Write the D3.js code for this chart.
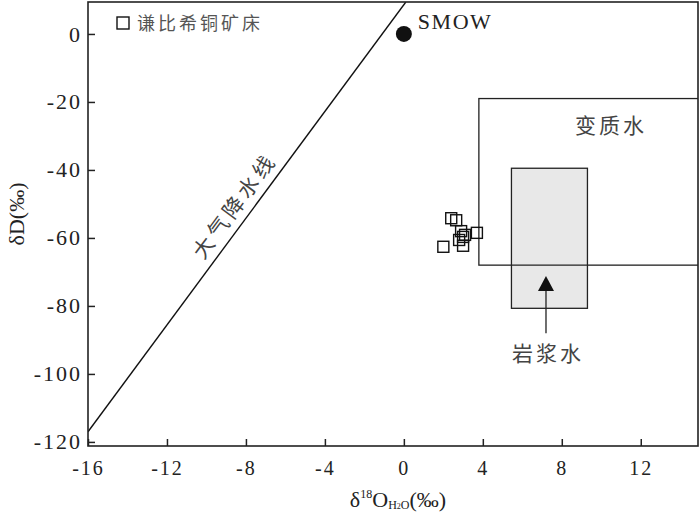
<!DOCTYPE html>
<html>
<head>
<meta charset="utf-8">
<script src="https://cdn.jsdelivr.net/npm/d3@7"></script>
<style>
  body { margin: 0; background: #fff; }
  svg { display: block; }
</style>
</head>
<body>
<div id="chart"></div>
<script>
// samples (d18O, dD)
const sampleX = [2.4, 2.65, 2.9, 3.7, 3.0, 3.1, 2.0, 3.0, 2.8];
const sampleY = [-54.2, -54.8, -58.0, -58.5, -59.7, -59.1, -62.6, -62.3, -60.6];

const xTicks = [-16, -12, -8, -4, 0, 4, 8, 12];
const yTicks = [0, -20, -40, -60, -80, -100, -120];

// meteoric water line end points
const mwlX = [-16, 0.1];
const mwlY = [-117, 9.4];

// fields
const metaBox = { x: [3.8, 15], y: [-68, -19] };
const magmaBox = { x: [5.45, 9.3], y: [-39.5, -80.7] };
const arrowX = 7.2;
const arrowY = [-88, -71.2];

const legendLabel = "谦比希铜矿床";

document.addEventListener("DOMContentLoaded", () => {
  const W = 700, H = 512;
  const L = 88, R = 698, T = 2, B = 446;
  const serif = "'Liberation Serif', 'DejaVu Serif', serif";
  const cjk = "'Noto Sans CJK SC', sans-serif";

  const svg = d3.select("#chart").append("svg")
    .attr("width", W).attr("height", H);

  const x = d3.scaleLinear().domain([-16, 14.9]).range([L, R]);
  const y = d3.scaleLinear().domain([-121.2, 9.4]).range([B, T]);

  svg.append("clipPath").attr("id", "clip")
    .append("rect").attr("x", L).attr("y", T).attr("width", R - L).attr("height", B - T);

  const plot = svg.append("g").attr("clip-path", "url(#clip)");

  // metamorphic water box
  plot.append("rect")
    .attr("x", x(metaBox.x[0]))
    .attr("y", y(metaBox.y[1]))
    .attr("width", x(metaBox.x[1]) - x(metaBox.x[0]))
    .attr("height", y(metaBox.y[0]) - y(metaBox.y[1]))
    .attr("fill", "none").attr("stroke", "#222").attr("stroke-width", 1.3);

  // magmatic water box
  plot.append("rect")
    .attr("x", x(magmaBox.x[0]))
    .attr("y", y(magmaBox.y[0]))
    .attr("width", x(magmaBox.x[1]) - x(magmaBox.x[0]))
    .attr("height", y(magmaBox.y[1]) - y(magmaBox.y[0]))
    .attr("fill", "#e8e8e8").attr("stroke", "#222").attr("stroke-width", 1.3);

  // redraw metamorphic bottom edge over the grey box
  plot.append("line")
    .attr("x1", x(magmaBox.x[0])).attr("x2", x(magmaBox.x[1]))
    .attr("y1", y(metaBox.y[0])).attr("y2", y(metaBox.y[0]))
    .attr("stroke", "#222").attr("stroke-width", 1.3);

  // arrow
  plot.append("line")
    .attr("x1", x(arrowX)).attr("x2", x(arrowX))
    .attr("y1", y(arrowY[0])).attr("y2", y(arrowY[1]) + 8)
    .attr("stroke", "#222").attr("stroke-width", 1.3);
  const ax = x(arrowX), ay = y(arrowY[1]);
  plot.append("path")
    .attr("d", `M${ax},${ay} L${ax - 8},${ay + 15} L${ax + 8},${ay + 15} Z`)
    .attr("fill", "#111");

  // meteoric water line
  const mwl = d3.zip(mwlX, mwlY);
  plot.append("path")
    .attr("d", d3.line().x(d => x(d[0])).y(d => y(d[1]))(mwl))
    .attr("fill", "none").attr("stroke", "#111").attr("stroke-width", 1.4);

  // SMOW
  plot.append("circle")
    .attr("cx", x(0)).attr("cy", y(0)).attr("r", 8)
    .attr("fill", "#111");

  // samples
  const sq = 11;
  plot.append("g").selectAll("rect")
    .data(d3.zip(sampleX, sampleY))
    .join("rect")
    .attr("x", d => x(d[0]) - sq / 2)
    .attr("y", d => y(d[1]) - sq / 2)
    .attr("width", sq).attr("height", sq)
    .attr("fill", "none").attr("stroke", "#111").attr("stroke-width", 1.4);

  // axes, plain hyphen for negatives like the original
  const fmt = d => String(d);
  const xAxis = d3.axisBottom(x).tickValues(xTicks).tickFormat(fmt)
    .tickSizeInner(-7).tickSizeOuter(0).tickPadding(15);
  const gx = svg.append("g").attr("transform", `translate(0,${B})`).call(xAxis);
  const yAxis = d3.axisLeft(y).tickValues(yTicks).tickFormat(fmt)
    .tickSizeInner(-7).tickSizeOuter(0).tickPadding(6);
  const gy = svg.append("g").attr("transform", `translate(${L},0)`).call(yAxis);

  [gx, gy].forEach(g => {
    g.select(".domain").remove();
    g.selectAll("line").attr("stroke", "#222").attr("stroke-width", 1.5);
    g.selectAll("text")
      .attr("font-family", serif)
      .attr("fill", "#222");
  });
  gx.selectAll("text").attr("font-size", 20).attr("letter-spacing", 2);
  gy.selectAll("text").attr("font-size", 22).attr("letter-spacing", 2);

  // frame
  svg.append("rect")
    .attr("x", L).attr("y", T).attr("width", R - L).attr("height", B - T)
    .attr("fill", "none").attr("stroke", "#222").attr("stroke-width", 1.6);

  // labels
  svg.append("text")
    .attr("x", x(0) + 14).attr("y", y(0) - 5)
    .attr("font-family", serif).attr("font-size", 22).attr("letter-spacing", 1.5)
    .attr("fill", "#222")
    .text("SMOW");

  svg.append("text")
    .attr("x", 611).attr("y", 133)
    .attr("text-anchor", "middle")
    .attr("font-family", cjk).attr("font-size", 21).attr("letter-spacing", 3)
    .attr("fill", "#444")
    .text("变质水");

  svg.append("text")
    .attr("x", x(arrowX) + 2).attr("y", 361)
    .attr("text-anchor", "middle")
    .attr("font-family", cjk).attr("font-size", 21).attr("letter-spacing", 3)
    .attr("fill", "#444")
    .text("岩浆水");

  // rotated line label
  const p0 = [x(mwlX[0]), y(mwlY[0])], p1 = [x(mwlX[1]), y(mwlY[1])];
  const ang = Math.atan2(p1[1] - p0[1], p1[0] - p0[0]) * 180 / Math.PI;
  const lx = -7.9, ly = mwlY[0] + (mwlY[1] - mwlY[0]) * (lx - mwlX[0]) / (mwlX[1] - mwlX[0]);
  svg.append("text")
    .attr("transform", `translate(${x(lx)},${y(ly)}) rotate(${ang})`)
    .attr("y", -9)
    .attr("text-anchor", "middle")
    .attr("font-family", cjk).attr("font-size", 21).attr("letter-spacing", 4)
    .attr("fill", "#444")
    .text("大气降水线");

  // legend
  svg.append("rect")
    .attr("x", 117).attr("y", 17).attr("width", 12).attr("height", 12)
    .attr("fill", "none").attr("stroke", "#111").attr("stroke-width", 1.4);
  svg.append("text")
    .attr("x", 137).attr("y", 30)
    .attr("font-family", cjk).attr("font-size", 18).attr("letter-spacing", 3)
    .attr("fill", "#555")
    .text(legendLabel);

  // axis titles
  svg.append("text")
    .attr("transform", "translate(24,214) rotate(-90)")
    .attr("text-anchor", "middle")
    .attr("font-family", serif).attr("font-size", 22).attr("fill", "#222")
    .text("δD(‰)");

  const xt = svg.append("text")
    .attr("x", 398).attr("y", 507)
    .attr("text-anchor", "middle")
    .attr("font-family", serif).attr("font-size", 22).attr("fill", "#222");
  xt.append("tspan").text("δ");
  xt.append("tspan").attr("font-size", 12).attr("dy", -9).text("18");
  xt.append("tspan").attr("dy", 9).text("O");
  xt.append("tspan").attr("font-size", 12).attr("dy", 2).text("H");
  xt.append("tspan").attr("font-size", 8).attr("dy", 0).text("2");
  xt.append("tspan").attr("font-size", 12).attr("dy", 0).text("O");
  xt.append("tspan").attr("dy", -2).text("(‰)");
});
</script>
</body>
</html>
